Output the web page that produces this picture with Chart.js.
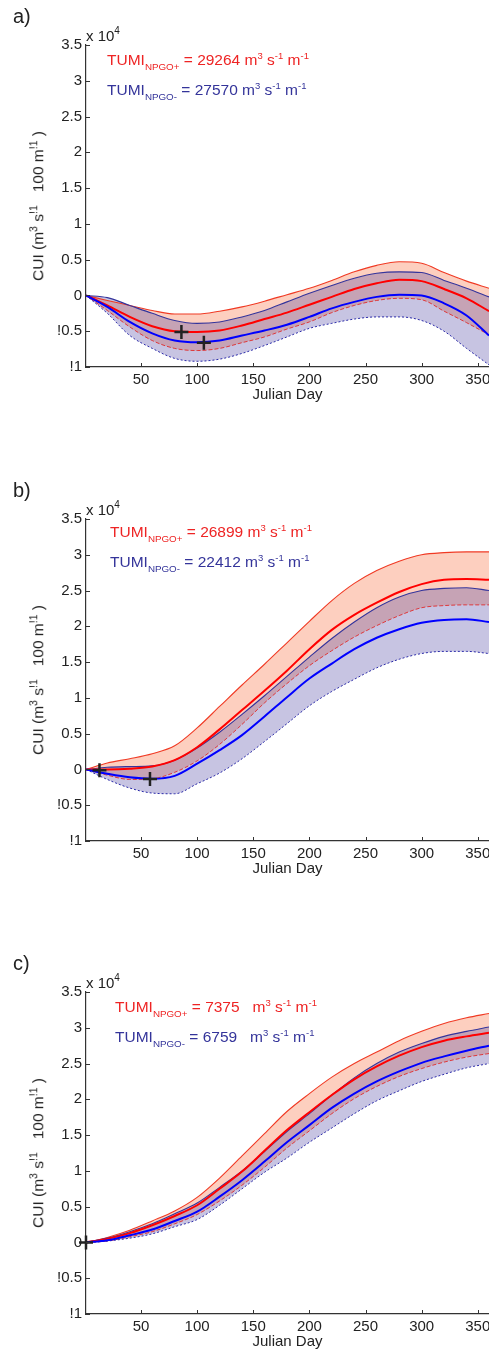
<!DOCTYPE html>
<html>
<head>
<meta charset="utf-8">
<script src="https://cdn.jsdelivr.net/npm/chart.js@4.4.1/dist/chart.umd.min.js"></script>
<style>
  html, body { margin: 0; padding: 0; background: #fff; overflow: hidden; }
  body { width: 489px; height: 1352px; position: relative; font-family: "Liberation Sans", Arial, sans-serif; color: #222; }
  .panel { position: absolute; left: 0; width: 489px; height: 474px; }
  .panel canvas { position: absolute; left: 0; top: 0; }
  .txt { position: absolute; white-space: pre; line-height: 1; }
  .plabel { font-size: 20px; left: 13px; top: 6px; }
  .xten { font-size: 15px; left: 86px; top: 28px; }
  .xten .sup { font-size: 10px; position: relative; top: -7px; }
  .ann { font-size: 15.5px; }
  .ann .sub { font-size: 9.8px; position: relative; top: 5px; }
  .ann .sup { font-size: 9.5px; position: relative; top: -6px; }
  .red { color: #ee2424; }
  .blue { color: #34349a; }
  .ytitle { font-size: 15.5px; left: 38px; top: 206px; transform: translate(-50%, -50%) rotate(-90deg); }
  .ytitle .sup { font-size: 10.5px; position: relative; top: -6px; }
</style>
</head>
<body>

<div class="panel" style="top:0px">
  <canvas id="ca" width="489" height="427" style="width:489px;height:427px"></canvas>
  <div class="txt plabel">a)</div>
  <div class="txt xten">x 10<span class="sup">4</span></div>
  <div class="txt ann red" style="left:107px;top:52px">TUMI<span class="sub">NPGO+</span> = 29264 m<span class="sup">3</span> s<span class="sup">-1</span> m<span class="sup">-1</span></div>
  <div class="txt ann blue" style="left:107px;top:82px">TUMI<span class="sub">NPGO-</span> = 27570 m<span class="sup">3</span> s<span class="sup">-1</span> m<span class="sup">-1</span></div>
  <div class="txt ytitle">CUI (m<span class="sup">3</span> s<span class="sup">!1</span>   100 m<span class="sup">!1</span> )</div>
</div>

<div class="panel" style="top:474px">
  <canvas id="cb" width="489" height="427" style="width:489px;height:427px"></canvas>
  <div class="txt plabel">b)</div>
  <div class="txt xten">x 10<span class="sup">4</span></div>
  <div class="txt ann red" style="left:110px;top:50px">TUMI<span class="sub">NPGO+</span> = 26899 m<span class="sup">3</span> s<span class="sup">-1</span> m<span class="sup">-1</span></div>
  <div class="txt ann blue" style="left:110px;top:80px">TUMI<span class="sub">NPGO-</span> = 22412 m<span class="sup">3</span> s<span class="sup">-1</span> m<span class="sup">-1</span></div>
  <div class="txt ytitle">CUI (m<span class="sup">3</span> s<span class="sup">!1</span>   100 m<span class="sup">!1</span> )</div>
</div>

<div class="panel" style="top:947px">
  <canvas id="cc" width="489" height="427" style="width:489px;height:427px"></canvas>
  <div class="txt plabel">c)</div>
  <div class="txt xten">x 10<span class="sup">4</span></div>
  <div class="txt ann red" style="left:115px;top:52px">TUMI<span class="sub">NPGO+</span> = 7375   m<span class="sup">3</span> s<span class="sup">-1</span> m<span class="sup">-1</span></div>
  <div class="txt ann blue" style="left:115px;top:82px">TUMI<span class="sub">NPGO-</span> = 6759   m<span class="sup">3</span> s<span class="sup">-1</span> m<span class="sup">-1</span></div>
  <div class="txt ytitle">CUI (m<span class="sup">3</span> s<span class="sup">!1</span>   100 m<span class="sup">!1</span> )</div>
</div>

<script>
var DAYS = [1, 20, 40, 60, 80, 100, 120, 140, 160, 180, 200, 220, 240, 260, 280, 300, 320, 340, 360];

var X_TICKS = [50, 100, 150, 200, 250, 300, 350];
var Y_TICKS = [-1, -0.5, 0, 0.5, 1, 1.5, 2, 2.5, 3, 3.5];
var Y_TICK_LABELS = ['!1', '!0.5', '0', '0.5', '1', '1.5', '2', '2.5', '3', '3.5'];

// a)
var A_RED_UP    = [0, -0.07, -0.14, -0.21, -0.26, -0.26, -0.22, -0.16, -0.08, 0.01, 0.10, 0.21, 0.33, 0.42, 0.47, 0.45, 0.32, 0.20, 0.10];
var A_RED_MEAN  = [0, -0.14, -0.30, -0.43, -0.50, -0.51, -0.49, -0.42, -0.33, -0.24, -0.13, -0.02, 0.09, 0.17, 0.22, 0.20, 0.09, -0.04, -0.22];
var A_RED_LO    = [0, -0.21, -0.44, -0.63, -0.74, -0.77, -0.74, -0.66, -0.58, -0.47, -0.37, -0.24, -0.14, -0.07, -0.04, -0.06, -0.22, -0.38, -0.55];
var A_BLUE_UP   = [0, -0.03, -0.14, -0.25, -0.35, -0.39, -0.37, -0.30, -0.21, -0.09, 0.03, 0.14, 0.24, 0.31, 0.33, 0.32, 0.21, 0.10, -0.02];
var A_BLUE_MEAN = [0, -0.16, -0.37, -0.53, -0.63, -0.655, -0.63, -0.56, -0.49, -0.41, -0.30, -0.18, -0.09, -0.02, 0.01, 0.00, -0.11, -0.28, -0.56];
var A_BLUE_LO   = [0, -0.25, -0.56, -0.74, -0.88, -0.92, -0.89, -0.81, -0.70, -0.58, -0.46, -0.39, -0.33, -0.30, -0.30, -0.35, -0.50, -0.74, -0.97];
var A_MARK_DAY  = [86, 106];
var A_MARK_VAL  = [-0.51, -0.66];

// b)
var B_RED_UP    = [0, 0.09, 0.15, 0.22, 0.33, 0.58, 0.88, 1.18, 1.47, 1.77, 2.07, 2.36, 2.60, 2.78, 2.91, 3.00, 3.03, 3.04, 3.04];
var B_RED_MEAN  = [0, 0.00, 0.01, 0.04, 0.13, 0.31, 0.56, 0.83, 1.10, 1.38, 1.68, 1.95, 2.16, 2.33, 2.48, 2.59, 2.65, 2.66, 2.65];
var B_RED_LO    = [0, -0.08, -0.14, -0.13, -0.04, 0.12, 0.35, 0.63, 0.93, 1.20, 1.45, 1.66, 1.85, 2.01, 2.15, 2.26, 2.29, 2.30, 2.30];
var B_BLUE_UP   = [0, 0.03, 0.04, 0.05, 0.13, 0.30, 0.52, 0.77, 1.03, 1.30, 1.57, 1.83, 2.06, 2.26, 2.41, 2.50, 2.53, 2.54, 2.50];
var B_BLUE_MEAN = [0, -0.06, -0.11, -0.13, -0.09, 0.08, 0.27, 0.48, 0.74, 1.01, 1.27, 1.48, 1.68, 1.84, 1.96, 2.05, 2.09, 2.10, 2.06];
var B_BLUE_LO   = [0, -0.14, -0.26, -0.33, -0.34, -0.20, -0.05, 0.15, 0.39, 0.64, 0.89, 1.09, 1.26, 1.42, 1.54, 1.62, 1.65, 1.65, 1.62];
var B_MARK_DAY  = [13, 58];
var B_MARK_VAL  = [-0.01, -0.135];

// c)
var C_RED_UP    = [0, 0.07, 0.17, 0.30, 0.44, 0.63, 0.90, 1.21, 1.52, 1.83, 2.08, 2.31, 2.50, 2.66, 2.82, 2.95, 3.06, 3.14, 3.20];
var C_RED_MEAN  = [0, 0.05, 0.13, 0.24, 0.37, 0.52, 0.75, 0.99, 1.28, 1.57, 1.82, 2.06, 2.28, 2.46, 2.61, 2.73, 2.82, 2.88, 2.93];
var C_RED_LO    = [0, 0.02, 0.08, 0.15, 0.26, 0.39, 0.58, 0.80, 1.05, 1.32, 1.56, 1.80, 2.01, 2.18, 2.32, 2.43, 2.52, 2.59, 2.64];
var C_BLUE_UP   = [0, 0.06, 0.15, 0.26, 0.40, 0.55, 0.77, 1.00, 1.27, 1.55, 1.80, 2.06, 2.30, 2.50, 2.66, 2.78, 2.88, 2.95, 3.01];
var C_BLUE_MEAN = [0, 0.03, 0.10, 0.18, 0.30, 0.43, 0.64, 0.87, 1.13, 1.40, 1.64, 1.88, 2.08, 2.25, 2.39, 2.51, 2.60, 2.68, 2.75];
var C_BLUE_LO   = [0, 0.02, 0.06, 0.12, 0.22, 0.32, 0.52, 0.75, 0.98, 1.18, 1.40, 1.60, 1.80, 1.98, 2.12, 2.25, 2.35, 2.44, 2.50];
var C_MARK_DAY  = [1];
var C_MARK_VAL  = [0];

Chart.defaults.font.family = '"Liberation Sans", Arial, sans-serif';
Chart.defaults.font.size = 15;
Chart.defaults.color = '#222';

function pts(days, vals) {
    return days.map(function (d, i) { return { x: d, y: vals[i] }; });
}

// MATLAB style ticks pointing into the plot
var inwardTicks = {
    id: 'inwardTicks',
    afterDatasetsDraw: function (chart) {
        var ctx = chart.ctx, area = chart.chartArea;
        var x = chart.scales.x, y = chart.scales.y;
        ctx.save();
        ctx.strokeStyle = '#333';
        ctx.lineWidth = 1;
        ctx.beginPath();
        x.ticks.forEach(function (t) {
            var px = Math.round(x.getPixelForValue(t.value)) + 0.5;
            ctx.moveTo(px, area.bottom);
            ctx.lineTo(px, area.bottom - 4);
        });
        y.ticks.forEach(function (t) {
            var py = Math.round(y.getPixelForValue(t.value)) + 0.5;
            ctx.moveTo(area.left, py);
            ctx.lineTo(area.left + 4, py);
        });
        ctx.stroke();
        ctx.restore();
    }
};

function drawPanel(id, redUp, redMean, redLo, blueUp, blueMean, blueLo, markDay, markVal) {
    var ctx = document.getElementById(id).getContext('2d');
    return new Chart(ctx, {
        type: 'line',
        data: {
            datasets: [
                { // spring transition markers
                    data: pts(markDay, markVal), showLine: false, pointStyle: 'cross',
                    pointRadius: 7, pointBorderWidth: 2.5, borderColor: '#222', clip: false
                },
                { data: pts(DAYS, blueMean), borderColor: '#0000ff', borderWidth: 2, fill: false },
                { data: pts(DAYS, redMean), borderColor: '#ff0000', borderWidth: 2, fill: false },
                { data: pts(DAYS, blueUp), borderColor: '#34349c', borderWidth: 1.1,
                  fill: { target: 4 }, backgroundColor: 'rgba(70,60,160,0.3)' },
                { data: pts(DAYS, blueLo), borderColor: '#2a2aa8', borderWidth: 1, borderDash: [2, 2], fill: false },
                { data: pts(DAYS, redUp), borderColor: '#f03a24', borderWidth: 1.1,
                  fill: { target: 6 }, backgroundColor: 'rgba(250,110,60,0.33)' },
                { data: pts(DAYS, redLo), borderColor: '#e02a2a', borderWidth: 0.9, borderDash: [4, 2], fill: false }
            ]
        },
        options: {
            responsive: false,
            animation: false,
            devicePixelRatio: 1,
            layout: { autoPadding: false, padding: { top: 45, right: 0, left: 0, bottom: 0 } },
            elements: {
                point: { radius: 0 },
                line: { cubicInterpolationMode: 'monotone' }
            },
            plugins: {
                legend: { display: false },
                tooltip: { enabled: false },
                filler: { drawTime: 'beforeDatasetsDraw' }
            },
            scales: {
                x: {
                    type: 'linear', min: 1, max: 360,
                    afterBuildTicks: function (scale) {
                        scale.ticks = X_TICKS.map(function (v) { return { value: v }; });
                    },
                    afterFit: function (scale) {
                        scale.height = 60;
                        scale.paddingLeft = 0;
                        scale.paddingRight = 0;
                    },
                    grid: { drawOnChartArea: false, drawTicks: false },
                    border: { display: true, color: '#333', width: 1.2 },
                    ticks: { padding: 4, maxRotation: 0, autoSkip: false, color: '#222' },
                    title: { display: true, text: 'Julian Day', color: '#222', padding: { top: 0, bottom: 23 } }
                },
                y: {
                    type: 'linear', min: -1, max: 3.5,
                    afterBuildTicks: function (scale) {
                        scale.ticks = Y_TICKS.map(function (v) { return { value: v }; });
                    },
                    afterFit: function (scale) {
                        scale.width = 86;
                        scale.paddingTop = 0;
                        scale.paddingBottom = 0;
                    },
                    grid: { drawOnChartArea: false, drawTicks: false },
                    border: { display: true, color: '#333', width: 1.2 },
                    ticks: {
                        padding: 4, autoSkip: false, color: '#222',
                        callback: function (v) { return Y_TICK_LABELS[Y_TICKS.indexOf(v)]; }
                    }
                }
            }
        },
        plugins: [inwardTicks]
    });
}

drawPanel('ca', A_RED_UP, A_RED_MEAN, A_RED_LO, A_BLUE_UP, A_BLUE_MEAN, A_BLUE_LO, A_MARK_DAY, A_MARK_VAL);
drawPanel('cb', B_RED_UP, B_RED_MEAN, B_RED_LO, B_BLUE_UP, B_BLUE_MEAN, B_BLUE_LO, B_MARK_DAY, B_MARK_VAL);
drawPanel('cc', C_RED_UP, C_RED_MEAN, C_RED_LO, C_BLUE_UP, C_BLUE_MEAN, C_BLUE_LO, C_MARK_DAY, C_MARK_VAL);
</script>
</body>
</html>
